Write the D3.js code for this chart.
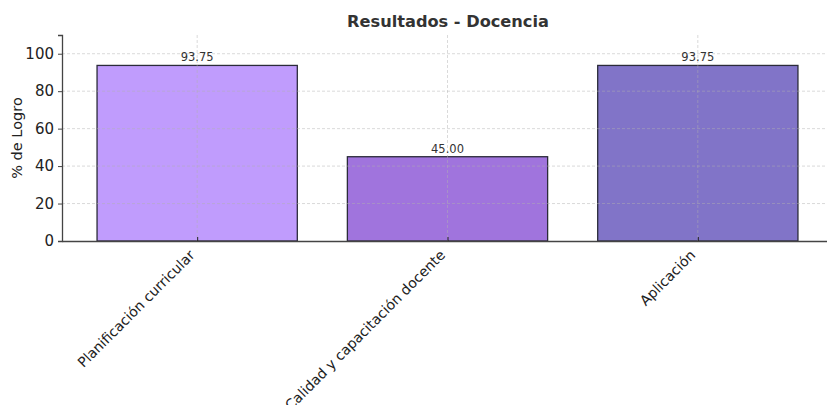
<!DOCTYPE html>
<html>
<head>
<meta charset="utf-8">
<script src="https://cdn.jsdelivr.net/npm/d3@7"></script>
<style>
  body { margin: 0; background: #fff; }
  svg { display: block; font-family: "DejaVu Sans", sans-serif; }
</style>
</head>
<body>
<div id="chart"></div>
<script>
const categories = ['Planificación curricular', 'Calidad y capacitación docente', 'Aplicación'];
const values = [93.75, 45.00, 93.75];
const barColors = ['#c09cfd', '#a074dd', '#8174c8'];
const yTicks = [0, 20, 40, 60, 80, 100];

const width = 827, height = 405;
const margin = { top: 35, right: -6, bottom: 164, left: 62 };
const innerW = width - margin.left - margin.right;
const innerH = height - margin.top - margin.bottom;

const svg = d3.select('#chart').append('svg')
    .attr('width', width)
    .attr('height', height);

const g = svg.append('g').attr('transform', `translate(${margin.left},${margin.top})`);

// matplotlib-like linear x: bars at 0,1,2, width 0.8, 5% margins
const x = d3.scaleLinear().domain([-0.54, 2.54]).range([0, innerW]);
const y = d3.scaleLinear().domain([0, 110]).range([innerH, 0]);
const barW = x(0.8) - x(0);

// bars
g.selectAll('rect.bar')
    .data(values)
    .enter()
    .append('rect')
    .attr('class', 'bar')
    .attr('x', (d, i) => x(i - 0.4))
    .attr('y', d => y(d))
    .attr('width', barW)
    .attr('height', d => innerH - y(d))
    .attr('fill', (d, i) => barColors[i])
    .attr('stroke', '#2b2b3a')
    .attr('stroke-width', 1.3);

// grid (drawn above bars, faint)
g.selectAll('line.hgrid')
    .data(yTicks.filter(t => t > 0))
    .enter()
    .append('line')
    .attr('x1', 0).attr('x2', innerW)
    .attr('y1', d => y(d)).attr('y2', d => y(d))
    .attr('stroke', '#b0b0b0')
    .attr('stroke-opacity', 0.6)
    .attr('stroke-width', 0.8)
    .attr('stroke-dasharray', '3,2');

g.selectAll('line.vgrid')
    .data(categories)
    .enter()
    .append('line')
    .attr('x1', (d, i) => x(i)).attr('x2', (d, i) => x(i))
    .attr('y1', 0).attr('y2', innerH)
    .attr('stroke', '#b0b0b0')
    .attr('stroke-opacity', 0.6)
    .attr('stroke-width', 0.8)
    .attr('stroke-dasharray', '3,2');

// value labels
g.selectAll('text.val')
    .data(values)
    .enter()
    .append('text')
    .attr('x', (d, i) => x(i))
    .attr('y', d => y(d) - 4)
    .attr('text-anchor', 'middle')
    .attr('font-size', 11.5)
    .attr('fill', '#333')
    .text(d => d.toFixed(2));

// y axis
const yAxis = g.append('g')
    .call(d3.axisLeft(y).tickValues(yTicks).tickSize(4).tickPadding(4));
yAxis.select('.domain').attr('stroke', '#444').attr('stroke-width', 1.3);
yAxis.selectAll('.tick line').attr('stroke', '#444');
yAxis.selectAll('.tick text').attr('font-size', 15).attr('fill', '#222')
    .attr('font-family', '"DejaVu Sans", sans-serif');

// x axis
const xAxis = g.append('g')
    .attr('transform', `translate(0,${innerH})`)
    .call(d3.axisBottom(x).tickValues([0, 1, 2]).tickSizeOuter(0).tickSizeInner(-4).tickFormat(i => categories[i]));
xAxis.select('.domain').attr('stroke', '#444').attr('stroke-width', 1.3);
xAxis.selectAll('.tick line').attr('stroke', '#222');
xAxis.selectAll('.tick text')
    .attr('font-size', 14)
    .attr('fill', '#222')
    .attr('font-family', '"DejaVu Sans", sans-serif')
    .attr('text-anchor', 'end')
    .attr('dy', null)
    .attr('y', 0)
    .attr('transform', 'translate(-2,15) rotate(-45)');

// y label
svg.append('text')
    .attr('transform', `translate(22,${margin.top + innerH / 2}) rotate(-90)`)
    .attr('text-anchor', 'middle')
    .attr('font-size', 14.5)
    .attr('fill', '#222')
    .text('% de Logro');

// title
svg.append('text')
    .attr('x', 448)
    .attr('y', 27)
    .attr('text-anchor', 'middle')
    .attr('font-size', 16.2)
    .attr('font-weight', 'bold')
    .attr('fill', '#333')
    .text('Resultados - Docencia');
</script>
</body>
</html>
